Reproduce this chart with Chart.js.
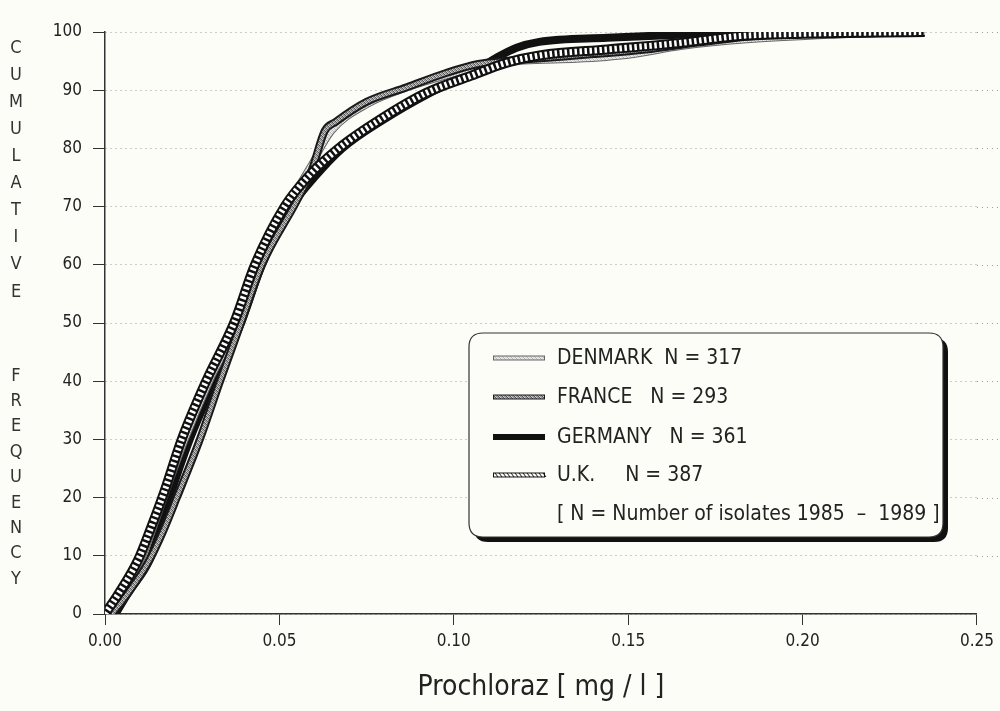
<!DOCTYPE html>
<html lang="en">
<head>
<meta charset="UTF-8">
<title>Prochloraz cumulative frequency</title>
<script src="https://cdn.jsdelivr.net/npm/chart.js"></script>
<style>
  html, body { margin: 0; padding: 0; background: #fdfdf8; }
  #wrap { width: 1000px; height: 711px; }
</style>
</head>
<body>
<div id="wrap"><canvas id="grafico" width="1000" height="711"></canvas></div>
<script>
// concentration (mg/l) and cumulative % per country
var denmarkX = [0, 0.005, 0.0105, 0.014, 0.0175, 0.023, 0.030, 0.038, 0.0435, 0.052, 0.059, 0.065, 0.075, 0.087, 0.098, 0.108, 0.120, 0.135, 0.150, 0.165, 0.185, 0.210, 0.235]
var denmarkY = [0, 4, 9.5, 15, 21, 30, 40, 50, 61, 70, 77, 83, 87.5, 90.5, 92.5, 94, 95, 95.3, 96, 97.5, 98.7, 99.5, 100]

var franceX = [0.002, 0.0065, 0.0125, 0.0165, 0.0206, 0.0272, 0.033, 0.039, 0.045, 0.055, 0.0593, 0.063, 0.066, 0.075, 0.0865, 0.098, 0.107, 0.115, 0.125, 0.140, 0.155, 0.170, 0.190, 0.235]
var franceY = [0, 3.5, 9, 14, 20, 30, 40, 50, 60, 71, 76.3, 83, 84.5, 88, 90.5, 93, 94.5, 95, 95.5, 96.2, 97, 98.2, 99.5, 100]

var germanyX = [0.003, 0.0066, 0.0128, 0.0155, 0.0185, 0.0243, 0.0315, 0.039, 0.045, 0.0535, 0.060, 0.068, 0.080, 0.093, 0.105, 0.112, 0.118, 0.1245, 0.144, 0.163, 0.190, 0.235]
var germanyY = [0, 3.6, 9.3, 14, 20, 30, 40, 50, 60, 70, 75, 80, 85, 89.5, 93, 95.5, 97.3, 98.3, 99, 99.5, 100, 100]

var ukX = [0, 0.004, 0.0095, 0.0133, 0.017, 0.022, 0.029, 0.037, 0.043, 0.0515, 0.058, 0.067, 0.079, 0.092, 0.105, 0.115, 0.125, 0.144, 0.163, 0.182, 0.200, 0.235]
var ukY = [0, 3.6, 9.3, 15, 21, 30, 40, 50, 60, 70, 75, 80, 85, 89.5, 92.5, 94.7, 96, 97, 98, 99.3, 99.7, 100]

var legendLabels = ['DENMARK  N = 317', 'FRANCE   N = 293', 'GERMANY   N = 361', 'U.K.     N = 387']
var legendNote = '[ N = Number of isolates 1985  \u2013  1989 ]'
var yTitle1 = 'CUMULATIVE'
var yTitle2 = 'FREQUENCY'

var fonte = "'Liberation Sans Narrow', 'DejaVu Sans Condensed', 'Liberation Sans', sans-serif"
var fundo = '#fdfdf8'

function pontos(xs, ys) {
    return xs.map(function (x, i) { return { x: x, y: ys[i] } })
}

// little stipple textures for the grey lines
function textura(cores) {
    var c = document.createElement('canvas')
    c.width = 4; c.height = 4
    var g = c.getContext('2d')
    for (var i = 0; i < 16; i++) {
        g.fillStyle = cores[(i * 7 + (i >> 2)) % cores.length]
        g.fillRect(i % 4, i >> 2, 1, 1)
    }
    return g.createPattern(c, 'repeat')
}

var ctx = document.getElementById('grafico').getContext('2d')
var texturaFranca = textura(['#8a8a8a', '#cfcfcf', '#555', '#a8a8a8'])
var texturaDinamarca = textura(['#d8d8d8', '#f0f0f0', '#b5b5b5', '#e6e6e6'])

// each country is an outline line plus an inner line on top
var estilos = [
    { nome: 'uk', fora: { cor: '#111', larg: 10 }, dentro: { cor: '#fff', larg: 6, dash: [2.5, 2.5] } },
    { nome: 'france', fora: { cor: '#1a1a1a', larg: 8 }, dentro: { cor: texturaFranca, larg: 4 } },
    { nome: 'denmark', fora: { cor: '#666', larg: 7 }, dentro: { cor: texturaDinamarca, larg: 5 } },
    { nome: 'germany', fora: { cor: '#111', larg: 8 }, dentro: null }
]

var series = {
    uk: pontos(ukX, ukY),
    france: pontos(franceX, franceY),
    denmark: pontos(denmarkX, denmarkY),
    germany: pontos(germanyX, germanyY)
}

var datasets = []
var ordem = 0
estilos.forEach(function (e) {
    if (e.dentro) {
        datasets.push({
            label: e.nome + '-in', data: series[e.nome], order: ordem++,
            borderColor: e.dentro.cor, borderWidth: e.dentro.larg, borderDash: e.dentro.dash || [],
            borderCapStyle: 'butt', pointRadius: 0, cubicInterpolationMode: 'monotone', fill: false
        })
    }
    datasets.push({
        label: e.nome, data: series[e.nome], order: ordem++,
        borderColor: e.fora.cor, borderWidth: e.fora.larg,
        borderCapStyle: 'butt', pointRadius: 0, cubicInterpolationMode: 'monotone', fill: false
    })
})

var pluginFundo = {
    id: 'fundo',
    beforeDraw: function (chart) {
        var c = chart.ctx
        c.save()
        c.fillStyle = fundo
        c.fillRect(0, 0, chart.width, chart.height)
        c.restore()
    }
}

function caixaArredondada(c, x, y, w, h, r) {
    c.beginPath()
    c.moveTo(x + r, y)
    c.lineTo(x + w - r, y)
    c.quadraticCurveTo(x + w, y, x + w, y + r)
    c.lineTo(x + w, y + h - r)
    c.quadraticCurveTo(x + w, y + h, x + w - r, y + h)
    c.lineTo(x + r, y + h)
    c.quadraticCurveTo(x, y + h, x, y + h - r)
    c.lineTo(x, y + r)
    c.quadraticCurveTo(x, y, x + r, y)
    c.closePath()
}

// vertical stacked axis title and the boxed legend
var pluginExtras = {
    id: 'extras',
    afterDraw: function (chart) {
        var c = chart.ctx
        var area = chart.chartArea
        c.save()

        // dotted grid runs on a little past the last x tick
        c.strokeStyle = '#9a9a9a'
        c.lineWidth = 1
        c.setLineDash([1, 4])
        chart.scales.y.ticks.forEach(function (t) {
            if (t.value == 0) return
            var py = Math.round(chart.scales.y.getPixelForValue(t.value)) + 0.5
            c.beginPath(); c.moveTo(area.right, py); c.lineTo(998, py); c.stroke()
        })
        c.setLineDash([])

        c.fillStyle = '#333'
        c.font = '18px ' + fonte
        c.textAlign = 'center'
        c.textBaseline = 'middle'
        for (var i = 0; i < yTitle1.length; i++) c.fillText(yTitle1[i], 16, 48 + i * 27.1)
        for (var j = 0; j < yTitle2.length; j++) c.fillText(yTitle2[j], 16, 376 + j * 25.4)

        // legend box with heavy shadow
        var bx = 469, by = 333, bw = 474, bh = 204
        caixaArredondada(c, bx + 5, by + 5, bw, bh, 14)
        c.fillStyle = '#111'
        c.fill()
        caixaArredondada(c, bx, by, bw, bh, 14)
        c.fillStyle = fundo
        c.fill()
        c.lineWidth = 1.2
        c.strokeStyle = '#333'
        c.stroke()

        var linhas = [358, 397, 437, 475]
        var ordemLegenda = ['denmark', 'france', 'germany', 'uk']
        ordemLegenda.forEach(function (nome, k) {
            var e = estilos.find(function (s) { return s.nome == nome })
            var yy = linhas[k]
            c.setLineDash([])
            c.lineCap = 'butt'
            c.beginPath(); c.moveTo(493, yy); c.lineTo(545, yy)
            c.strokeStyle = e.fora.cor
            c.lineWidth = nome == 'germany' ? 6 : 5
            c.stroke()
            if (e.dentro) {
                c.beginPath(); c.moveTo(494, yy); c.lineTo(544, yy)
                c.strokeStyle = e.dentro.cor
                c.lineWidth = 3
                c.stroke()
                if (nome == 'uk') {
                    // slanted hatch in the sample
                    c.strokeStyle = '#111'
                    c.lineWidth = 1
                    for (var h = 495; h < 545; h += 4) {
                        c.beginPath(); c.moveTo(h, yy - 2); c.lineTo(h + 3, yy + 2); c.stroke()
                    }
                }
            }
            c.fillStyle = '#222'
            c.font = '21px ' + fonte
            c.textAlign = 'left'
            c.textBaseline = 'middle'
            c.fillText(legendLabels[k], 557, yy + 1)
        })
        c.fillText(legendNote, 557, 515)
        c.restore()
    }
}

new Chart(ctx, {
    type: 'line',
    data: { datasets: datasets },
    options: {
        responsive: false,
        animation: false,
        layout: { padding: { top: 32, right: 22, left: 0, bottom: 0 } },
        plugins: { legend: { display: false }, tooltip: { enabled: false } },
        scales: {
            x: {
                type: 'linear', min: 0, max: 0.25,
                afterFit: function (s) { s.height = 97 },
                ticks: {
                    stepSize: 0.05, color: '#222', padding: 6,
                    font: { family: fonte, size: 17 },
                    callback: function (v) { return v.toFixed(2) }
                },
                grid: { drawOnChartArea: false, drawTicks: true, tickLength: 11, tickColor: '#333', tickWidth: 1 },
                border: { color: '#333', width: 1.5 },
                title: {
                    display: true, text: 'Prochloraz [ mg / l ]', color: '#222',
                    font: { family: fonte, size: 28 }, padding: { top: 0, bottom: 6 }
                }
            },
            y: {
                min: 0, max: 100,
                afterFit: function (s) { s.width = 105 },
                ticks: { stepSize: 10, color: '#222', padding: 11, font: { family: fonte, size: 17 } },
                grid: { color: '#9a9a9a', lineWidth: 1, tickLength: 12, tickColor: '#333', tickBorderDash: [] },
                border: { color: '#333', width: 1.5, dash: [1, 4] }
            }
        }
    },
    plugins: [pluginFundo, pluginExtras]
})
</script>
</body>
</html>
